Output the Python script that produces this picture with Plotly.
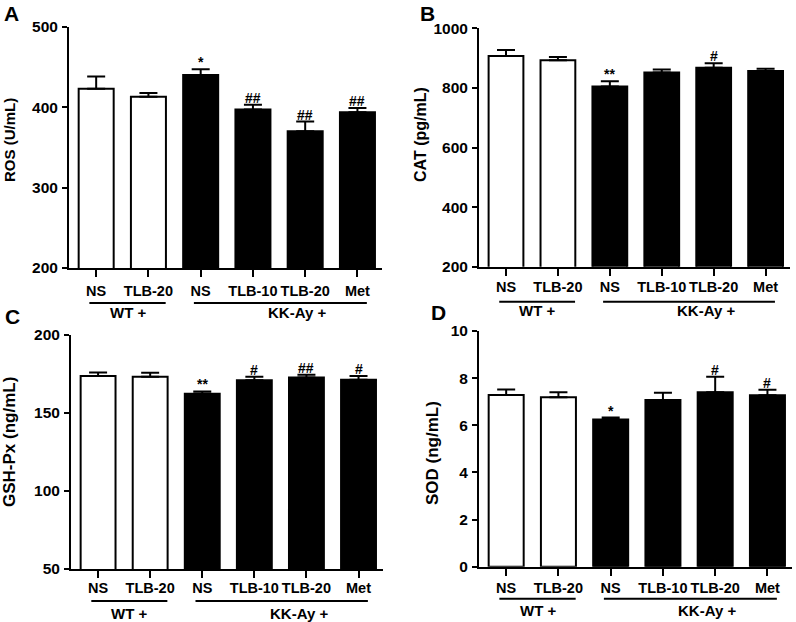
import plotly.graph_objects as go

# categories (shared by all panels)
treatments = ["NS", "TLB-20", "NS", "TLB-10", "TLB-20", "Met"]
groups = ["WT +", "KK-Ay +"]
group_members = [[0, 1], [2, 3, 4, 5]]

# panel A: ROS
ros_mean = [423, 413, 440, 397, 370, 393.5]
ros_sem = [15, 4.5, 7, 6, 12, 5.5]
ros_sig = ["", "", "*", "##", "##", "##"]

# panel B: CAT
cat_mean = [907, 893, 805, 852, 868, 857]
cat_sem = [20, 11, 17, 10, 15, 7]
cat_sig = ["", "", "**", "", "#", ""]

# panel C: GSH-Px
gsh_mean = [173.4, 172.9, 162.1, 170.8, 172.5, 171.0]
gsh_sem = [2.3, 2.6, 1.5, 2.1, 1.7, 2.4]
gsh_sig = ["", "", "**", "#", "##", "#"]

# panel D: SOD
sod_mean = [7.28, 7.19, 6.25, 7.07, 7.40, 7.27]
sod_sem = [0.24, 0.21, 0.08, 0.31, 0.66, 0.24]
sod_sig = ["", "", "*", "", "#", "#"]

W, H = 796, 622


def fx(px):
    return min(max(px / W, 0), 1)


def fy(py):
    return min(max(1 - py / H, 0), 1)


def b(s):
    return "<b>%s</b>" % s


FONT = "Liberation Sans, Arial, sans-serif"
bar_colors = ["white", "white", "black", "black", "black", "black"]

# (letter, title, title size, mean, sem, sig, y ticks,
#  pixel box: left, right, top, bottom, letter pos, title pos, tick standoff)
panels = [
    ("A", "ROS (U/mL)", 15, ros_mean, ros_sem, ros_sig, [200, 300, 400, 500],
     (69, 382, 26.7, 268), (11, 13), (10, 140), 2),
    ("B", "CAT (pg/mL)", 16, cat_mean, cat_sem, cat_sig, [200, 400, 600, 800, 1000],
     (479, 790, 28.3, 266.7), (427, 13), (421, 135), -1),
    ("C", "GSH-Px (ng/mL)", 17, gsh_mean, gsh_sem, gsh_sig, [50, 100, 150, 200],
     (71, 383, 334.5, 569), (12.5, 316), (9, 442), -2),
    ("D", "SOD (ng/mL)", 17, sod_mean, sod_sem, sod_sig, [0, 2, 4, 6, 8, 10],
     (479, 792, 331, 566.7), (438, 312), (432, 453), 0),
]

fig = go.Figure()
annotations = []
shapes = []
x_idx = list(range(len(treatments)))

for i, (letter, title, tsize, mean, sem, sig, yt, box, lpos, tpos, stand) in enumerate(panels):
    n = "" if i == 0 else str(i + 1)
    xa, ya = "x" + n, "y" + n
    left, right, top, bottom = box
    fig.add_trace(go.Bar(
        x=x_idx, y=mean, xaxis=xa, yaxis=ya, width=0.67,
        marker=dict(color=bar_colors, line=dict(color="black", width=2)),
        error_y=dict(type="data", symmetric=False, array=sem,
                     arrayminus=[0] * len(sem), color="black",
                     thickness=2, width=9),
        showlegend=False,
    ))
    axis_common = dict(showline=True, linecolor="black", linewidth=2,
                       showgrid=False, zeroline=False, ticks="outside",
                       tickcolor="black", tickwidth=2, tickangle=0,
                       automargin=False)
    fig.layout["xaxis" + n] = dict(
        axis_common, domain=[fx(left), fx(right)], range=[-0.52, 5.47],
        tickvals=x_idx, ticktext=[b(t) for t in treatments], ticklen=7,
        anchor=ya, ticklabelstandoff=stand,
        tickfont=dict(family=FONT, size=14.5, color="black"))
    fig.layout["yaxis" + n] = dict(
        axis_common, domain=[fy(bottom), fy(top)], range=[yt[0], yt[-1]],
        tickvals=yt, ticktext=[b(v) for v in yt], ticklen=5, anchor=xa,
        ticklabelstandoff=1,
        tickfont=dict(family=FONT, size=15.5, color="black"))
    # significance marks
    for j, s in enumerate(sig):
        if s:
            annotations.append(dict(
                x=j, y=mean[j] + sem[j], xref=xa, yref=ya, text=b(s),
                showarrow=False, xanchor="center", yanchor="bottom", yshift=-3,
                font=dict(family=FONT, size=14, color="black")))
    # group underlines and labels
    line_y = bottom + (35 if i < 2 else 32)
    label_y = bottom + 44
    for g, members in enumerate(group_members):
        x0 = members[0] - 0.13
        x1 = members[-1] + (0.33 if g == 0 else 0.18)
        shapes.append(dict(type="line", xref=xa, yref="paper",
                           x0=x0, x1=x1, y0=fy(line_y), y1=fy(line_y),
                           line=dict(color="black", width=2)))
        annotations.append(dict(
            x=0.6 if g == 0 else 3.85, y=fy(label_y), xref=xa, yref="paper",
            text=b(groups[g]), showarrow=False,
            xanchor="center", yanchor="middle",
            font=dict(family=FONT, size=15, color="black")))
    # panel letter
    annotations.append(dict(
        x=fx(lpos[0]), y=fy(lpos[1]), xref="paper", yref="paper",
        text=b(letter), showarrow=False, xanchor="center", yanchor="middle",
        font=dict(family=FONT, size=21, color="black")))
    # y title
    annotations.append(dict(
        x=fx(tpos[0]), y=fy(tpos[1]), xref="paper", yref="paper",
        text=b(title), textangle=-90, showarrow=False,
        xanchor="center", yanchor="middle",
        font=dict(family=FONT, size=tsize, color="black")))

fig.update_layout(
    width=W, height=H, margin=dict(l=0, r=0, t=0, b=0, autoexpand=False),
    plot_bgcolor="white", paper_bgcolor="white",
    annotations=annotations, shapes=shapes, bargap=0.33,
)

# drop the browser's default body margin so the figure fills the window
fig.write_html("out.html", config={"displayModeBar": False},
               post_script="document.body.style.margin = '0';")
